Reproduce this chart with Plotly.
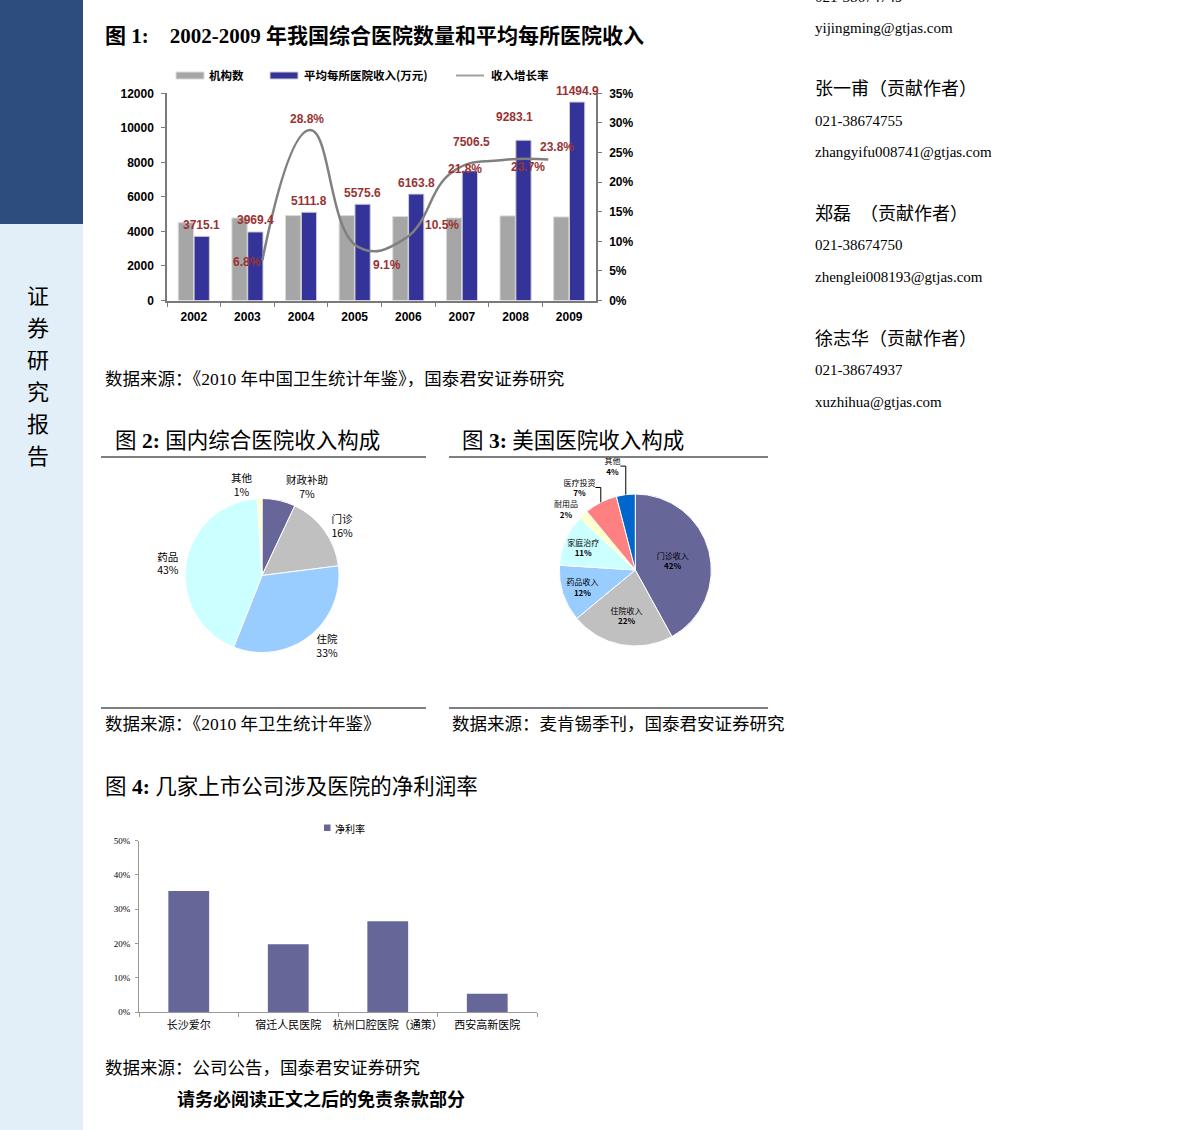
import plotly.graph_objects as go

W, H = 1191, 1130
def px(x): return x / W
def py(y): return 1 - y / H

# ---------------- data ----------------
# Figure 1
years = ['2002', '2003', '2004', '2005', '2006', '2007', '2008', '2009']
hospital_count = [4510, 4780, 4920, 4920, 4860, 4780, 4900, 4840]
avg_income = [3715.1, 3969.4, 5111.8, 5575.6, 6163.8, 7506.5, 9283.1, 11494.9]
growth_years = ['2003', '2004', '2005', '2006', '2007', '2008', '2009']
income_growth = [6.8, 28.8, 9.1, 10.5, 21.8, 23.7, 23.8]

# Figure 2
domestic_labels = ['财政补助', '门诊', '住院', '药品', '其他']
domestic_share = [7, 16, 33, 43, 1]

# Figure 3
us_labels = ['门诊收入', '住院收入', '药品收入', '家庭治疗', '耐用品', '医疗投资', '其他']
us_share = [42, 22, 12, 11, 2, 7, 4]

# Figure 4
companies = ['长沙爱尔', '宿迁人民医院', '杭州口腔医院（通策）', '西安高新医院']
net_margin = [0.353, 0.198, 0.265, 0.053]

# label nudges (pixels, style only)
value_dx = [0, 0, 0, 0, 0, 2, -9, 0]
value_dy = [0, 0, 0, 0, 0, 17, 12, 0]
growth_dx = [-15, -3, 29, 37, 12, 27, 9]
growth_dy = [-2, 11, -18, 13, 2, -7, 13]

SERIF = 'Liberation Serif, Noto Sans CJK SC'
CJK = 'Noto Sans CJK SC'
ARIAL = 'Liberation Sans, Arial'
RED = '#993333'
AXIS = '#7a7a7a'

fig = go.Figure()

# ---------------- Figure 1 ----------------
fig.add_trace(go.Bar(x=years, y=hospital_count, name='机构数',
                     marker=dict(color='#a6a6a6', line=dict(color='#d9d9d9', width=1)),
                     width=0.285, offset=-0.29, xaxis='x', yaxis='y', showlegend=False))
fig.add_trace(go.Bar(x=years, y=avg_income, name='平均每所医院收入(万元)',
                     marker=dict(color='#333399', line=dict(color='#d0d0d0', width=1)),
                     width=0.285, offset=0.005, xaxis='x', yaxis='y', showlegend=False))
fig.add_trace(go.Scatter(x=growth_years, y=income_growth, name='收入增长率', mode='lines',
                         line=dict(color='#808080', width=2.5, shape='spline', smoothing=1.3),
                         xaxis='x2', yaxis='y2', showlegend=False))

# ---------------- Figure 2 ----------------
fig.add_trace(go.Pie(labels=domestic_labels, values=domestic_share, sort=False,
                     direction='clockwise', rotation=0,
                     marker=dict(colors=['#666699', '#c0c0c0', '#99ccff', '#ccffff', '#ffffcc'],
                                 line=dict(color='white', width=1)),
                     texttemplate='%{label}<br>%{value}%', textposition='outside',
                     textfont=dict(family=CJK, size=10.5, color='#000'),
                     domain=dict(x=[px(185), px(339)], y=[py(652.5), py(498.5)]),
                     showlegend=False, hoverinfo='label+percent'))

# ---------------- Figure 3 ----------------
fig.add_trace(go.Pie(labels=us_labels, values=us_share, sort=False,
                     direction='clockwise', rotation=0,
                     marker=dict(colors=['#666699', '#c0c0c0', '#99ccff', '#ccffff', '#ffffcc',
                                         '#ff8080', '#0066cc'],
                                 line=dict(color='white', width=1)),
                     texttemplate='%{label}<br><b>%{value}%</b>',
                     textposition=['inside', 'inside', 'inside', 'inside', 'outside', 'outside', 'outside'],
                     insidetextorientation='horizontal',
                     textfont=dict(family=CJK, size=8, color='#000'),
                     domain=dict(x=[px(559.3), px(711.3)], y=[py(646), py(494)]),
                     showlegend=False, hoverinfo='label+percent'))

# ---------------- Figure 4 ----------------
fig.add_trace(go.Bar(x=companies, y=net_margin, name='净利率',
                     marker=dict(color='#666699', line=dict(width=0)),
                     width=0.41, xaxis='x3', yaxis='y3', showlegend=False))

# ---------------- annotations ----------------
ann = []
def text(x, y, s, size=16, family=SERIF, color='#000', anchor='left'):
    ann.append(dict(x=px(x), y=py(y), xref='paper', yref='paper', text=s,
                    showarrow=False, xanchor=anchor, yanchor='middle',
                    font=dict(size=size, family=family, color=color)))

# value labels on the blue bars (x given as category index)
for i, (v, dx, dy) in enumerate(zip(avg_income, value_dx, value_dy)):
    ann.append(dict(x=i, y=v, xref='x', yref='y', text=f'<b>{v:.1f}</b>', showarrow=False,
                    xshift=8 + dx, yshift=11.5 + dy, font=dict(size=12, family=ARIAL, color=RED)))
# growth labels
for i, (g, dx, dy) in enumerate(zip(income_growth, growth_dx, growth_dy)):
    ann.append(dict(x=i, y=g, xref='x2', yref='y2', text=f'<b>{g:.1f}%</b>', showarrow=False,
                    xshift=dx, yshift=dy, font=dict(size=12, family=ARIAL, color=RED)))

NB = '\u00a0'
# titles and sources
text(103, 36, f'<b>图 1:{NB*4}2002-2009 年我国综合医院数量和平均每所医院收入</b>', size=21)
text(103, 379, '数据来源：《2010 年中国卫生统计年鉴》，国泰君安证券研究', size=17.5)
text(113, 441, f'图 <b>2:</b>{NB}国内综合医院收入构成', size=21.5)
text(460, 441, f'图 <b>3:</b>{NB}美国医院收入构成', size=21.5)
text(103, 724, '数据来源：《2010 年卫生统计年鉴》', size=17.5)
text(450, 724, '数据来源：麦肯锡季刊，国泰君安证券研究', size=17.5)
text(103, 787, f'图 <b>4:</b>{NB}几家上市公司涉及医院的净利润率', size=21.5)
text(103, 1068, '数据来源：公司公告，国泰君安证券研究', size=17.5)
text(175, 1099, '<b>请务必阅读正文之后的免责条款部分</b>', size=18)

# legend texts
text(207, 75.5, '<b>机构数</b>', size=11.5, family=CJK)
text(302, 75.5, '<b>平均每所医院收入(万元)</b>', size=11.5, family=CJK)
text(489, 75.5, '<b>收入增长率</b>', size=11.5, family=CJK)
text(333, 828, '净利率', size=10, family=CJK)

# right column
right = [(-3, '021-38674749', 15), (28, 'yijingming@gtjas.com', 15),
         (89, '张一甫（贡献作者）', 18), (121, '021-38674755', 15), (152, 'zhangyifu008741@gtjas.com', 15),
         (214, f'郑磊{NB}{NB}（贡献作者）', 18), (245, '021-38674750', 15), (277, 'zhenglei008193@gtjas.com', 15),
         (339, '徐志华（贡献作者）', 18), (370, '021-38674937', 15), (402, 'xuzhihua@gtjas.com', 15)]
for yy, s, sz in right:
    text(813, yy, s, size=sz)

# sidebar vertical text
for i, ch in enumerate('证券研究报告'):
    text(38, 294 + i * 32, ch, size=22, family=CJK, anchor='center')

# ---------------- shapes ----------------
shapes = [
    dict(type='rect', xref='paper', yref='paper', x0=0, x1=px(83), y0=py(224), y1=1,
         fillcolor='#2d4d7f', line=dict(width=0), layer='below'),
    dict(type='rect', xref='paper', yref='paper', x0=0, x1=px(83), y0=0, y1=py(224),
         fillcolor='#e3eff8', line=dict(width=0), layer='below'),
]
for y0 in (457, 708):
    for xa, xb in ((101, 426), (449, 768)):
        shapes.append(dict(type='line', xref='paper', yref='paper', x0=px(xa), x1=px(xb),
                           y0=py(y0), y1=py(y0), line=dict(color='#555555', width=1.5)))
# legend swatches
shapes += [
    dict(type='rect', xref='paper', yref='paper', x0=px(176), x1=px(204), y0=py(79), y1=py(72),
         fillcolor='#a6a6a6', line=dict(color='#d9d9d9', width=1)),
    dict(type='rect', xref='paper', yref='paper', x0=px(270), x1=px(298), y0=py(79), y1=py(72),
         fillcolor='#333399', line=dict(color='#d0d0d0', width=1)),
    dict(type='line', xref='paper', yref='paper', x0=px(456), x1=px(484), y0=py(75.5), y1=py(75.5),
         line=dict(color='#a0a0a0', width=2)),
    dict(type='rect', xref='paper', yref='paper', x0=px(324), x1=px(330.5), y0=py(831), y1=py(824.5),
         fillcolor='#666699', line=dict(width=0)),
]

bold_tick = dict(size=12, family=ARIAL, color='#000')
fig.update_layout(
    width=W, height=H, margin=dict(l=0, r=0, t=0, b=0, pad=0, autoexpand=False), autosize=False,
    paper_bgcolor='white', plot_bgcolor='rgba(0,0,0,0)',
    barmode='overlay', showlegend=False,
    annotations=ann, shapes=shapes,
    xaxis=dict(domain=[px(167), px(596)], anchor='y', type='category', categoryarray=years,
               range=[-0.5, 7.5], tickson='boundaries', ticks='outside', ticklen=5, tickcolor=AXIS,
               showline=True, linecolor=AXIS, linewidth=1.5, showgrid=False, zeroline=False,
               tickfont=bold_tick, tickprefix='<b>', ticksuffix='</b>', tickangle=0,
               ticklabelstandoff=4, automargin=False),
    yaxis=dict(domain=[py(300.5), py(93.3)], anchor='x', range=[0, 12000], dtick=2000, tickformat='d',
               ticks='outside', ticklen=4, tickcolor=AXIS, showline=True, linecolor=AXIS, linewidth=1.5,
               showgrid=False, zeroline=False, tickfont=bold_tick, tickprefix='<b>', ticksuffix='</b>',
               ticklabelstandoff=5, automargin=False),
    xaxis2=dict(overlaying='x', anchor='y2', type='category', categoryarray=growth_years,
                range=[-2, 7], visible=False),
    yaxis2=dict(overlaying='y', anchor='x', side='right', range=[0, 35], dtick=5, tickformat='d',
                ticks='outside', ticklen=4, tickcolor=AXIS, showline=True, linecolor=AXIS, linewidth=1.5,
                showgrid=False, zeroline=False, tickfont=bold_tick, tickprefix='<b>', ticksuffix='%</b>',
                ticklabelstandoff=5, automargin=False),
    xaxis3=dict(domain=[px(139), px(537)], anchor='y3', type='category', categoryarray=companies,
                tickson='boundaries', ticks='outside', ticklen=4, tickcolor='#999999', tickangle=0,
                showline=True, linecolor='#999999', linewidth=1, showgrid=False, zeroline=False,
                tickfont=dict(size=11, family=CJK, color='#000'), ticklabelstandoff=3, automargin=False),
    yaxis3=dict(domain=[py(1012), py(840.7)], anchor='x3', range=[0, 0.5], dtick=0.1, tickformat='.0%',
                ticks='outside', ticklen=3, tickcolor='#999999', showline=True, linecolor='#999999',
                linewidth=1, showgrid=False, zeroline=False,
                tickfont=dict(size=9, family=SERIF, color='#000'), ticklabelstandoff=3, automargin=False),
)

css_fix = (
    "var s=document.createElement('style');"
    "s.textContent='html,body{margin:0!important;padding:0!important;overflow:hidden!important;"
    "width:1191px;height:1130px;}body>div{margin:0;padding:0;line-height:0;font-size:0;}';"
    "document.head.appendChild(s);"
)
fig.write_html('out.html', config={'responsive': False, 'displayModeBar': False},
               post_script=css_fix)
